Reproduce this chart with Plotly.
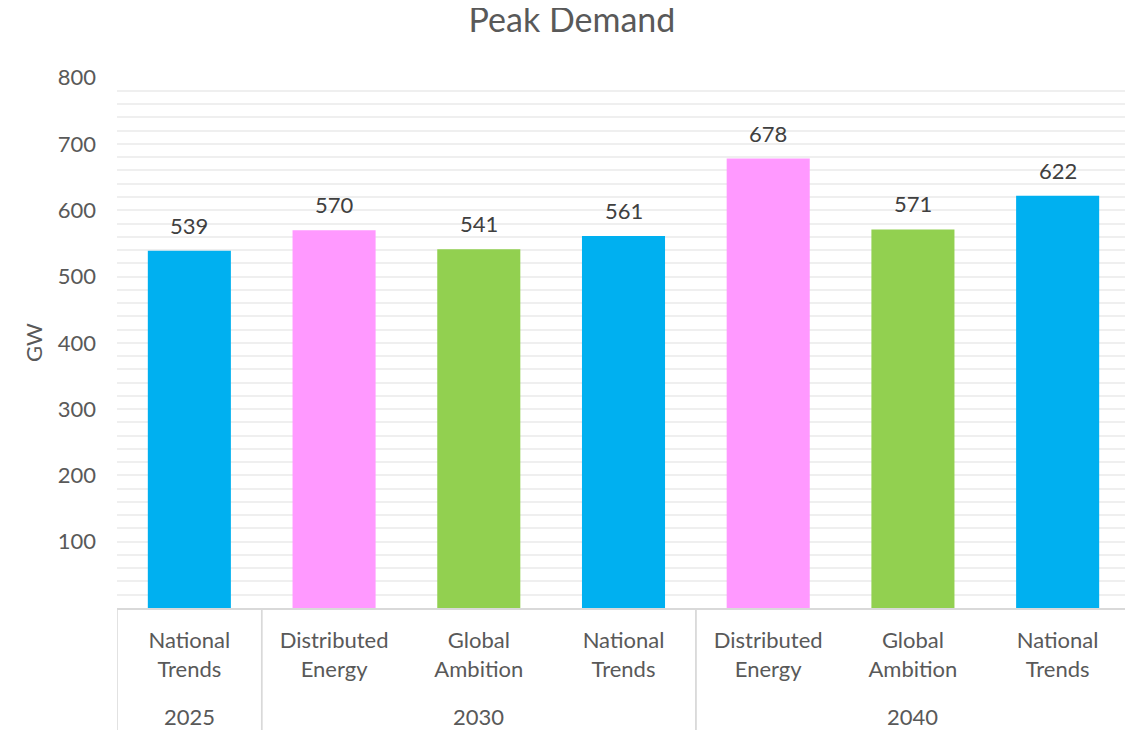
import plotly.graph_objects as go

# Peak demand by scenario and year
scenarios = ["National<br>Trends", "Distributed<br>Energy", "Global<br>Ambition", "National<br>Trends",
             "Distributed<br>Energy", "Global<br>Ambition", "National<br>Trends"]
peak_gw = [539, 570, 541, 561, 678, 571, 622]
bar_colors = ["#00B0F0", "#FF99FF", "#92D050", "#00B0F0", "#FF99FF", "#92D050", "#00B0F0"]
year_labels = ["2025", "2030", "2040"]
year_groups = [[0], [1, 2, 3], [4, 5, 6]]   # bar positions belonging to each year
y_ticks = [100, 200, 300, 400, 500, 600, 700, 800]

font_name = "Lato"
text_grey = "#595959"
line_grey = "#D9D9D9"

# page shows the figure offset by the body margin, so margins are compensated
m_left, m_right, m_top, m_bottom = 109, 11, 69, 130
positions = list(range(len(peak_gw)))
plot_h = 730 - m_top - m_bottom
below = m_bottom / plot_h

fig = go.Figure()
fig.add_trace(go.Bar(x=positions, y=peak_gw, marker_color=bar_colors, marker_line_width=0))

# value labels above the bars
for pos, val in zip(positions, peak_gw):
    fig.add_annotation(x=pos, y=val, text=str(val), showarrow=False, yanchor="bottom", yshift=10,
                       font=dict(size=22, color="#404040", family=font_name))

# year labels and group dividers under the axis
for label, group in zip(year_labels, year_groups):
    centre = (group[0] + group[-1]) / 2
    fig.add_annotation(x=centre, y=-108 / plot_h, xref="x", yref="paper", text=label, showarrow=False,
                       yanchor="middle", font=dict(size=22, color=text_grey, family=font_name))
    for edge in (group[0] - 0.5, group[-1] + 0.5):
        fig.add_shape(type="line", xref="x", yref="paper", x0=edge, x1=edge, y0=0, y1=-below,
                      line=dict(color=line_grey, width=1.5))

fig.update_xaxes(range=[-0.5, len(peak_gw) - 0.5], tickmode="array", tickvals=positions, ticktext=scenarios,
                 showline=True, linecolor=line_grey, linewidth=1.5, showgrid=False, zeroline=False,
                 ticks="", ticklabelstandoff=12,
                 tickfont=dict(size=22, color=text_grey, family=font_name))
fig.update_yaxes(range=[0, 801], tickmode="array", tickvals=y_ticks,
                 showgrid=True, gridcolor="#EFEFEF", gridwidth=1.5, zeroline=False,
                 minor=dict(dtick=20, tick0=0, showgrid=True, gridcolor="#EFEFEF", gridwidth=1.5),
                 ticklabelstandoff=20,
                 tickfont=dict(size=22, color=text_grey, family=font_name),
                 title=dict(text="GW", font=dict(size=22, color=text_grey, family=font_name), standoff=9))
fig.update_layout(width=1133, height=730, plot_bgcolor="white", paper_bgcolor="white",
                  bargap=0.426, showlegend=False,
                  margin=dict(l=m_left, r=m_right, t=m_top, b=m_bottom, autoexpand=False),
                  title=dict(text="Peak Demand", x=564 / 1133, xanchor="center",
                             y=1, yref="container", yanchor="top", pad=dict(t=0),
                             font=dict(size=34, color=text_grey, family=font_name)))
fig.write_html("out.html")
